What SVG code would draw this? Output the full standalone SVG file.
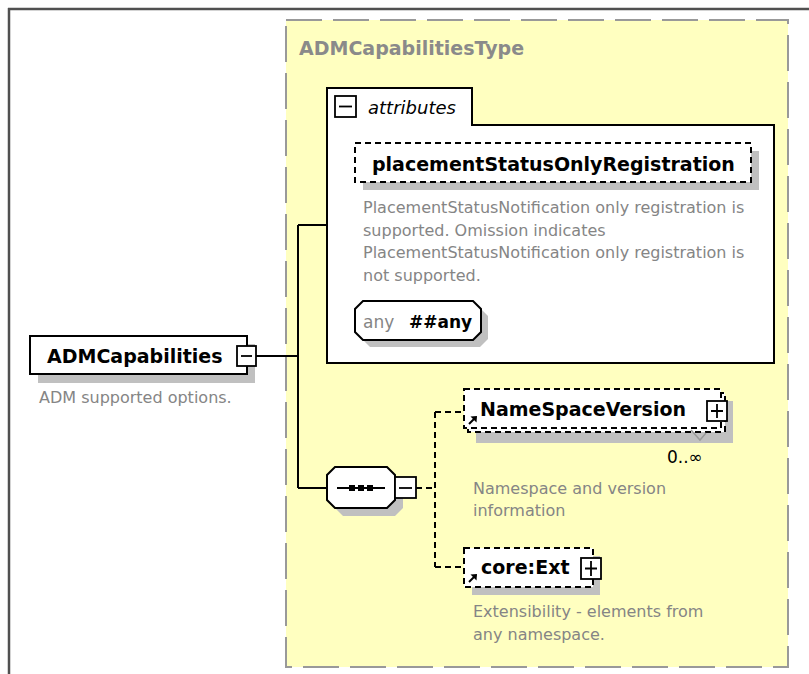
<svg xmlns="http://www.w3.org/2000/svg" width="809" height="674" viewBox="0 0 809 674">
<style>
.name{font-family:"DejaVu Sans",Verdana,sans-serif;font-weight:bold;font-size:19px;fill:#000}
.title{font-family:"DejaVu Sans",Verdana,sans-serif;font-weight:bold;font-size:19px;fill:#8a8a8a}
.desc{font-family:"DejaVu Sans",Verdana,sans-serif;font-size:16px;fill:#858585}
.shadow{fill:#c0c0c0}
.box{fill:#fff;stroke:#000;stroke-width:2}
.dbox{fill:#fff;stroke:#000;stroke-width:2;stroke-dasharray:6 4}
.conn{fill:none;stroke:#000;stroke-width:2}
.dconn{fill:none;stroke:#000;stroke-width:2;stroke-dasharray:6 4}
.btn{fill:#fff;stroke:#000;stroke-width:1.8}
.sym{fill:none;stroke:#000;stroke-width:1.8}
</style>
<rect x="0" y="0" width="809" height="674" fill="#fff"/>
<path d="M8,9 H809 M9,8 V674" fill="none" stroke="#505050" stroke-width="2.5"/>

<g id="ADMCapabilitiesType">
  <rect x="286" y="20" width="502" height="647" fill="#ffffc0" stroke="#999" stroke-width="2" stroke-dasharray="36 11"/>
  <text class="title" x="299" y="55">ADMCapabilitiesType</text>
</g>

<g id="connectors">
  <path class="conn" d="M256,356 H298 M298,225 V488 M298,225 H327 M298,488 H327"/>
  <path class="dconn" d="M416,488 H435 M435,412 V567 M435,412 H464 M435,567 H464"/>
</g>

<g id="ADMCapabilities">
  <rect class="shadow" x="38" y="344" width="217" height="39"/>
  <rect class="box" x="30" y="336" width="217" height="38"/>
  <text class="name" x="47" y="363">ADMCapabilities</text>
  <rect class="btn" x="237" y="346" width="19" height="20"/>
  <path class="sym" d="M241,356 H252"/>
  <text class="desc" x="39" y="403">ADM supported options.</text>
</g>

<g id="attributes">
  <path class="box" d="M327,363 V88 H472 V125 H774 V363 Z"/>
  <rect class="btn" x="335" y="96" width="21" height="21"/>
  <path class="sym" d="M339,106.5 H352"/>
  <text x="368" y="114" font-family="'DejaVu Sans',Verdana,sans-serif" font-style="italic" font-size="18" fill="#000">attributes</text>
</g>

<g id="placementStatusOnlyRegistration">
  <rect class="shadow" x="363" y="151" width="396" height="39"/>
  <rect class="dbox" x="355" y="143" width="396" height="39"/>
  <text class="name" x="372" y="171">placementStatusOnlyRegistration</text>
  <text class="desc" x="363" y="213">PlacementStatusNotification only registration is</text>
  <text class="desc" x="363" y="236">supported. Omission indicates</text>
  <text class="desc" x="363" y="258">PlacementStatusNotification only registration is</text>
  <text class="desc" x="363" y="281">not supported.</text>
</g>

<g id="anyAttribute">
  <polygon class="shadow" points="370,308 480,308 488,316 488,339 480,347 370,347 362,339 362,316"/>
  <polygon class="box" points="363,301 473,301 481,309 481,332 473,340 363,340 355,332 355,309"/>
  <text x="363" y="328" font-family="'DejaVu Sans',Verdana,sans-serif" font-size="17" fill="#858585">any</text>
  <text x="409" y="328" font-family="'DejaVu Sans',Verdana,sans-serif" font-size="17" font-weight="bold" fill="#000">##any</text>
</g>

<g id="sequence">
  <polygon class="shadow" points="343,475 395,475 403,483 403,508 395,516 343,516 335,508 335,483"/>
  <polygon class="box" points="335,467 387,467 395,475 395,500 387,508 335,508 327,500 327,475"/>
  <path class="sym" d="M337,488 H385"/>
  <rect x="349" y="485" width="6" height="6" fill="#000"/>
  <rect x="358" y="485" width="6" height="6" fill="#000"/>
  <rect x="367" y="485" width="6" height="6" fill="#000"/>
  <rect class="btn" x="395" y="477" width="21" height="21"/>
  <path class="sym" d="M399,488 H412"/>
</g>

<g id="NameSpaceVersion">
  <rect class="shadow" x="476" y="401" width="257" height="42"/>
  <rect class="dbox" x="468" y="393" width="257" height="39"/>
  <rect class="dbox" x="464" y="389" width="257" height="39"/>
  <text class="name" x="480" y="416">NameSpaceVersion</text>
  <rect class="btn" x="707" y="401" width="20" height="20"/>
  <path class="sym" d="M711,411 H723 M717,404 V418"/>
  <path d="M469,424 L474.5,418.5" stroke="#000" stroke-width="2" fill="none"/>
  <polygon points="477,416 470.5,416.5 476.5,422.5" fill="#000"/>
  <path d="M691,430 L700,440 L706,433" stroke="#999" stroke-width="1.5" fill="none"/>
  <text x="667" y="463" font-family="'DejaVu Sans',Verdana,sans-serif" font-size="17" fill="#000">0..∞</text>
  <text class="desc" x="473" y="494">Namespace and version</text>
  <text class="desc" x="473" y="516">information</text>
</g>

<g id="coreExt">
  <rect class="shadow" x="472" y="556" width="128" height="39"/>
  <rect class="dbox" x="464" y="548" width="129" height="39"/>
  <text class="name" x="481" y="574">core:Ext</text>
  <rect class="btn" x="581" y="558" width="20" height="21"/>
  <path class="sym" d="M585,568.5 H597 M591,561 V576"/>
  <path d="M469,582 L474.5,576.5" stroke="#000" stroke-width="2" fill="none"/>
  <polygon points="477,574 470.5,574.5 476.5,580.5" fill="#000"/>
  <text class="desc" x="473" y="617">Extensibility - elements from</text>
  <text class="desc" x="473" y="640">any namespace.</text>
</g>
</svg>
